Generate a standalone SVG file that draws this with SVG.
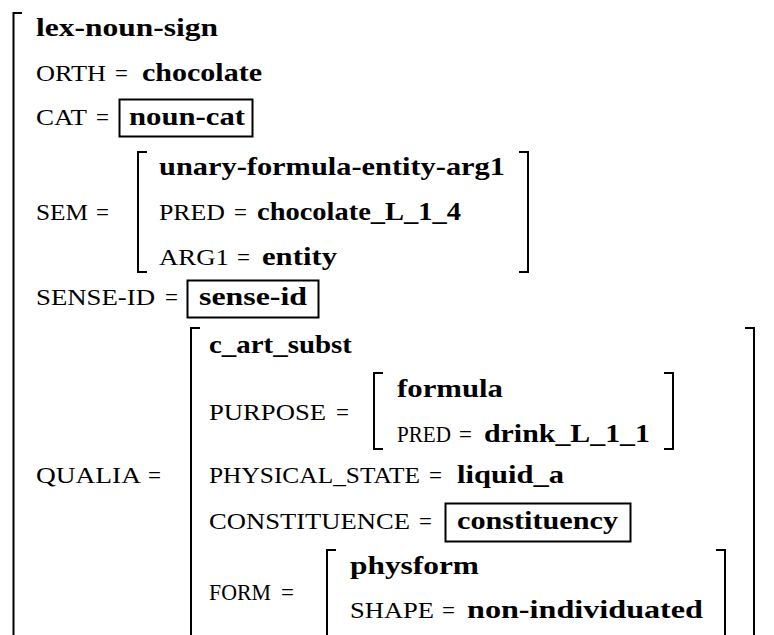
<svg xmlns="http://www.w3.org/2000/svg" width="774" height="635" viewBox="0 0 774 635">
  <style>
    .v { font-family: "Liberation Serif", "DejaVu Serif", serif; font-weight: bold; font-size: 26px; fill: #000; }
    .a { font-family: "Liberation Serif", "DejaVu Serif", serif; font-size: 23px; fill: #000; }
    .eq { font-family: "Liberation Serif", "DejaVu Serif", serif; font-size: 23px; fill: #000; }
    .br { fill: none; stroke: #000; stroke-width: 2; }
    .box { fill: none; stroke: #000; stroke-width: 2; }
  </style>
  <rect width="774" height="635" fill="#fff"/>

  <!-- outer structure: lex-noun-sign -->
  <g id="lex-noun-sign">
    <path class="br" d="M22 13 H13.5 V640"/>
    <text class="v" x="36" y="36" textLength="182" lengthAdjust="spacingAndGlyphs">lex-noun-sign</text>
  </g>

  <g id="orth">
    <text class="a" x="36" y="81" textLength="70" lengthAdjust="spacingAndGlyphs">ORTH</text>
    <text class="eq" x="115" y="81">=</text>
    <text class="v" x="142" y="81" textLength="120" lengthAdjust="spacingAndGlyphs">chocolate</text>
  </g>

  <g id="cat">
    <text class="a" x="36" y="125" textLength="51" lengthAdjust="spacingAndGlyphs">CAT</text>
    <text class="eq" x="96" y="125">=</text>
    <rect class="box" x="119.5" y="99.5" width="133" height="37"/>
    <text class="v" x="129" y="125" textLength="116" lengthAdjust="spacingAndGlyphs">noun-cat</text>
  </g>

  <g id="sem">
    <text class="a" x="36" y="220" textLength="52" lengthAdjust="spacingAndGlyphs">SEM</text>
    <text class="eq" x="96" y="220">=</text>
    <path class="br" d="M147 152 H138 V272 H147"/>
    <path class="br" d="M519 152 H528 V272 H519"/>
    <text class="v" x="159" y="175" textLength="346" lengthAdjust="spacingAndGlyphs">unary-formula-entity-arg1</text>
    <text class="a" x="159" y="220" textLength="66" lengthAdjust="spacingAndGlyphs">PRED</text>
    <text class="eq" x="234" y="220">=</text>
    <text class="v" x="257" y="220" textLength="204" lengthAdjust="spacingAndGlyphs">chocolate_L_1_4</text>
    <text class="a" x="159" y="265" textLength="70" lengthAdjust="spacingAndGlyphs">ARG1</text>
    <text class="eq" x="237" y="265">=</text>
    <text class="v" x="262" y="265" textLength="75" lengthAdjust="spacingAndGlyphs">entity</text>
  </g>

  <g id="sense-id">
    <text class="a" x="36" y="305" textLength="119" lengthAdjust="spacingAndGlyphs">SENSE-ID</text>
    <text class="eq" x="165" y="305">=</text>
    <rect class="box" x="187.5" y="280.5" width="131" height="37"/>
    <text class="v" x="199" y="305" textLength="108" lengthAdjust="spacingAndGlyphs">sense-id</text>
  </g>

  <g id="qualia">
    <text class="a" x="36" y="483" textLength="105" lengthAdjust="spacingAndGlyphs">QUALIA</text>
    <text class="eq" x="148" y="483">=</text>
    <path class="br" d="M200 328 H191 V640"/>
    <path class="br" d="M745 328 H754 V640"/>
    <text class="v" x="209" y="353" textLength="143" lengthAdjust="spacingAndGlyphs">c_art_subst</text>
  </g>

  <g id="purpose">
    <text class="a" x="209" y="420" textLength="117" lengthAdjust="spacingAndGlyphs">PURPOSE</text>
    <text class="eq" x="336" y="420">=</text>
    <path class="br" d="M383 373 H374 V449 H383"/>
    <path class="br" d="M664 373 H673 V449 H664"/>
    <text class="v" x="397" y="397" textLength="106" lengthAdjust="spacingAndGlyphs">formula</text>
    <text class="a" x="397" y="442" textLength="54" lengthAdjust="spacingAndGlyphs">PRED</text>
    <text class="eq" x="459" y="442">=</text>
    <text class="v" x="484" y="442" textLength="166" lengthAdjust="spacingAndGlyphs">drink_L_1_1</text>
  </g>

  <g id="physical-state">
    <text class="a" x="209" y="483" textLength="211" lengthAdjust="spacingAndGlyphs">PHYSICAL_STATE</text>
    <text class="eq" x="429" y="483">=</text>
    <text class="v" x="457" y="483" textLength="107" lengthAdjust="spacingAndGlyphs">liquid_a</text>
  </g>

  <g id="constituence">
    <text class="a" x="209" y="529" textLength="201" lengthAdjust="spacingAndGlyphs">CONSTITUENCE</text>
    <text class="eq" x="419" y="529">=</text>
    <rect class="box" x="445.5" y="503.5" width="185" height="38"/>
    <text class="v" x="457" y="529" textLength="161" lengthAdjust="spacingAndGlyphs">constituency</text>
  </g>

  <g id="form">
    <text class="a" x="209" y="600" textLength="62" lengthAdjust="spacingAndGlyphs">FORM</text>
    <text class="eq" x="281" y="600">=</text>
    <path class="br" d="M336 550 H327 V640"/>
    <path class="br" d="M716 550 H725 V640"/>
    <text class="v" x="350" y="574" textLength="129" lengthAdjust="spacingAndGlyphs">physform</text>
    <text class="a" x="350" y="618" textLength="84" lengthAdjust="spacingAndGlyphs">SHAPE</text>
    <text class="eq" x="442" y="618">=</text>
    <text class="v" x="467" y="618" textLength="236" lengthAdjust="spacingAndGlyphs">non-individuated</text>
  </g>
</svg>
